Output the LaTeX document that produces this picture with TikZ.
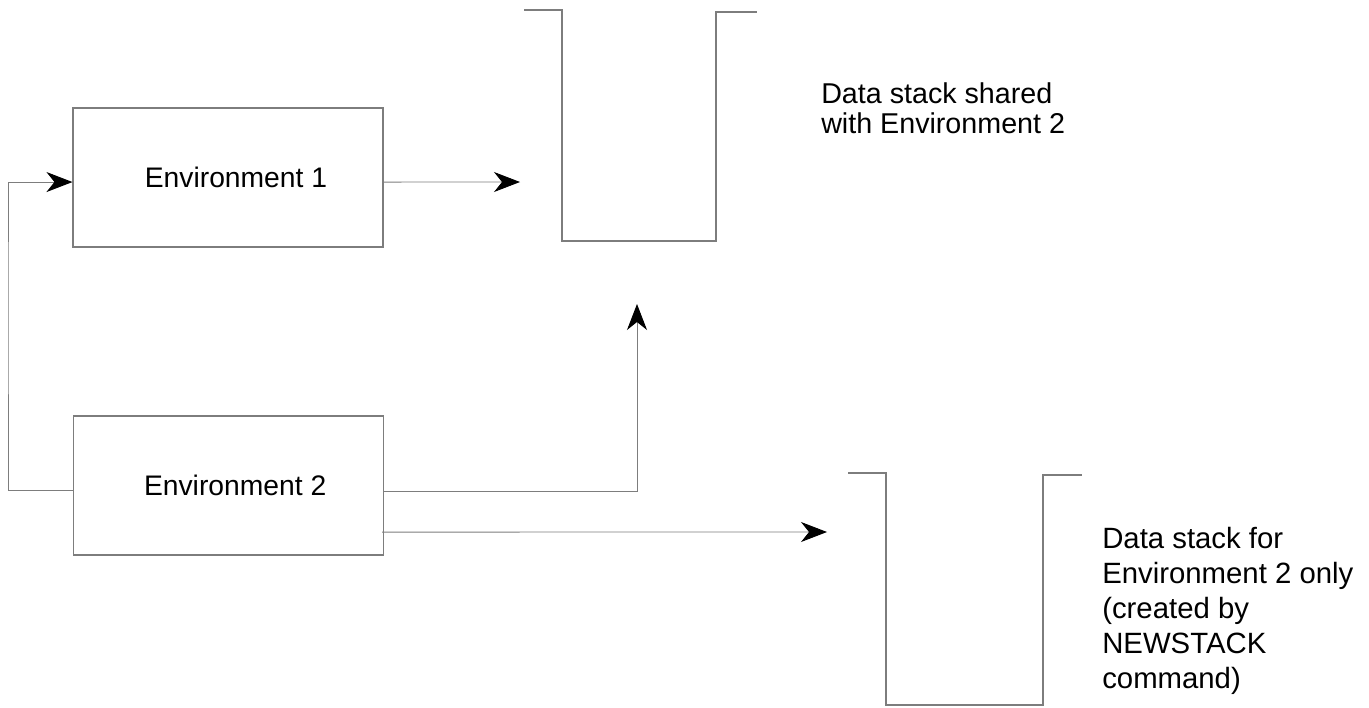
\documentclass[tikz,border=0pt]{standalone}
\usepackage{fontspec}
\setmainfont{Liberation Sans}
\usetikzlibrary{arrows.meta}
\definecolor{linegray}{RGB}{125,125,125}
\tikzset{
  envbox/.style={draw=linegray, line width=0.8pt, minimum width=232.5pt, minimum height=104.25pt, inner sep=0pt, font=\fontsize{21.2pt}{24pt}\selectfont},
  conn/.style={draw=linegray, line width=0.7pt, -{Stealth[length=19.5pt, width=15pt, inset=6pt, color=black]}},
  stackline/.style={draw=linegray, line width=1.1pt},
  label/.style={inner sep=0pt, anchor=north west, align=left}
}
\begin{document}
\begin{tikzpicture}[x=0.75pt, y=-0.75pt]
\useasboundingbox (0,0) rectangle (1369,707);
% boxes
\node[envbox] (box1) at (228,177.5) {\hspace*{12pt}Environment 1};
\node[envbox] (box2) at (228.5,485.5) {\hspace*{10pt}Environment 2};
% stacks
\draw[stackline] (524,10) -- (562,10) -- (562,241) -- (716,241) -- (716,12) -- (757,12);
\draw[stackline] (848,473) -- (886,473) -- (886,705) -- (1043,705) -- (1043,475) -- (1082,475);
% connector end points
\coordinate (s1in) at (520,182);
\coordinate (s1up) at (637,304);
\coordinate (s2in) at (827,532);
\coordinate (loopx) at (8,300);
% connectors
\draw[conn] ([yshift=-3.4pt]box1.east) -- (s1in);
\draw[conn] ([yshift=-4.1pt]box2.east) -| (s1up);
\draw[conn] ([yshift=-34.9pt,xshift=-1.5pt]box2.east) -- (s2in);
\draw[conn] ([yshift=-3.4pt]box2.west) -| (loopx) |- ([yshift=-3.4pt]box1.west);
% labels
\node[label, font=\fontsize{21.5pt}{22.5pt}\selectfont] (t1) at (821,82) {Data stack shared\\with Environment 2};
\node[label, font=\fontsize{22pt}{26.25pt}\selectfont] (t2) at (1102,527) {Data stack for\\Environment 2 only\\(created by\\NEWSTACK\\command)};
\end{tikzpicture}
\end{document}
